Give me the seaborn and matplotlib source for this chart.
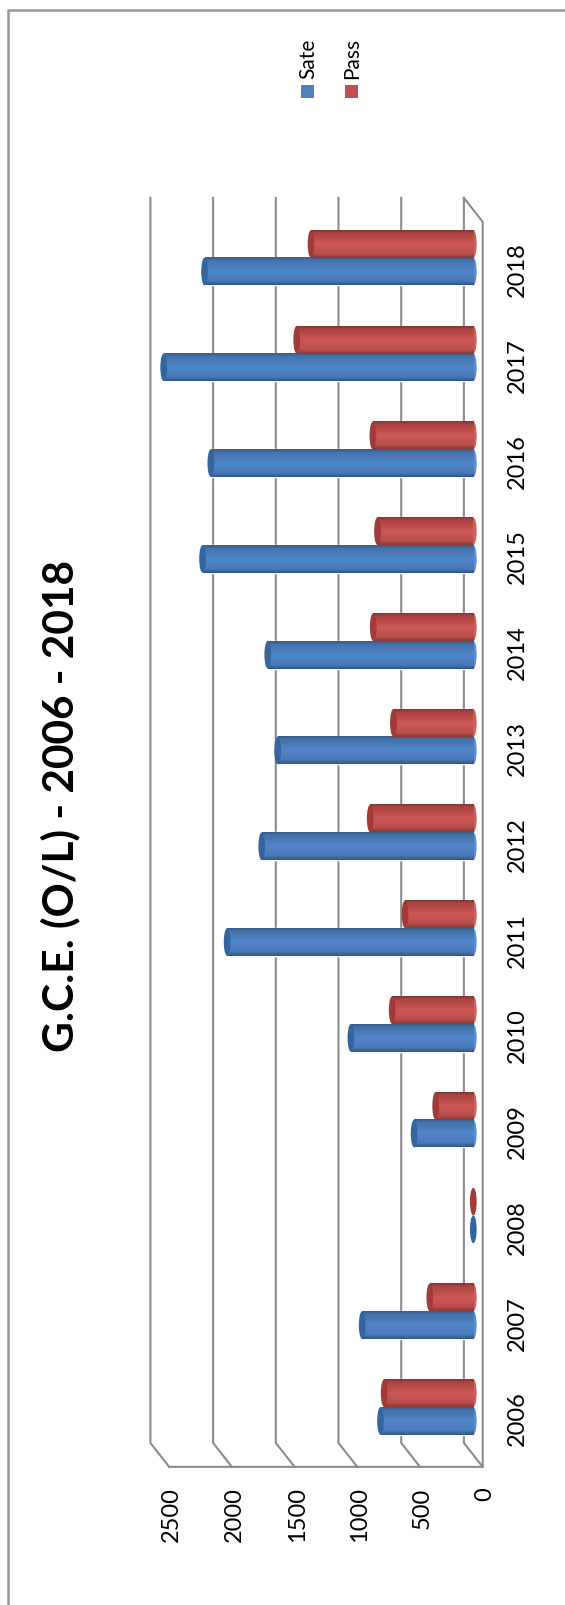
import numpy as np
import pandas as pd
import matplotlib
matplotlib.use("Agg")
import matplotlib.pyplot as plt
import seaborn as sns
from matplotlib.lines import Line2D
from matplotlib.patches import Ellipse, Rectangle
from matplotlib.transforms import ScaledTranslation

# -----------------------------
# Data
# -----------------------------

years = ["2006", "2007", "2008", "2009", "2010", "2011", "2012",
         "2013", "2014", "2015", "2016", "2017", "2018"]
sate = [740, 886, 0, 472, 976, 1963, 1687, 1560, 1639, 2159, 2093, 2469, 2143]
passed = [711, 347, 0, 300, 647, 544, 822, 637, 798, 764, 801, 1408, 1294]
series_names = ["Sate", "Pass"]
value_ticks = [0, 500, 1000, 1500, 2000, 2500]
title = "G.C.E. (O/L) - 2006 - 2018"

df = pd.DataFrame({"year": years, "Sate": sate, "Pass": passed})
long_df = df.melt(id_vars="year", var_name="series", value_name="value")

# -----------------------------
# Layout (pixels of the 565x1605 picture)
# -----------------------------

W, H = 565, 1605
GRID = "#8c8c8c"
BLUE = "#4f81bd"
RED = "#c0504d"

x_zero = 473.3
px_per_unit = 0.1254
y_first = 1407
px_per_cat = 95.77
depth_x = 75      # value units between the bars and the floor/wall
depth_y = 0.125   # categories

ax_left, ax_right, ax_top, ax_bottom = 146, 490, 190, 1475

sns.set_style("white")
plt.rcParams["font.family"] = ["Lato", "DejaVu Sans"]

fig = plt.figure(figsize=(W / 100, H / 100), dpi=100)
ax = fig.add_axes([ax_left / W, 1 - ax_bottom / H,
                   (ax_right - ax_left) / W, (ax_bottom - ax_top) / H])
ax.patch.set_alpha(0)

sns.barplot(data=long_df, x="value", y="year", hue="series",
            order=years, hue_order=series_names,
            palette=[BLUE, RED], saturation=1, width=0.578, gap=0,
            errorbar=None, legend=False, orient="y", ax=ax)

xlim = ((x_zero - ax_left) / px_per_unit, (x_zero - ax_right) / px_per_unit)
ylim = ((y_first - ax_bottom) / px_per_cat, (y_first - ax_top) / px_per_cat)
y_lo, y_hi = -0.5, len(years) - 0.5

# -----------------------------
# Fake 3D walls
# -----------------------------

line_kw = dict(color=GRID, lw=1.5, zorder=0.5, clip_on=False,
               solid_capstyle="projecting", solid_joinstyle="miter")
for v in value_ticks:
    ax.plot([v + depth_x, v + depth_x, v - depth_x],
            [y_hi + depth_y, y_lo + depth_y, y_lo - depth_y], **line_kw)
ax.plot([value_ticks[-1] - depth_x, -depth_x, -depth_x, depth_x],
        [y_lo - depth_y, y_lo - depth_y, y_hi - depth_y, y_hi + depth_y], **line_kw)

# -----------------------------
# Cylinder shading on the seaborn bars
# -----------------------------

stops = [0, 0.1, 0.5, 0.85, 1]
shades = {
    0: np.array([[56, 92, 138], [68, 114, 170], [80, 134, 202], [72, 122, 182], [52, 88, 132]]) / 255,
    1: np.array([[134, 52, 50], [170, 68, 66], [205, 88, 85], [186, 78, 75], [140, 56, 54]]) / 255,
}
cap_colors = {0: "#33659f", 1: "#a03b39"}
end_colors = {0: "#5a8fd0", 1: "#d0605c"}
cap_width = 6.7 / px_per_unit

t = np.linspace(0, 1, 40)
for k, container in enumerate(ax.containers):
    grad = np.stack([np.interp(t, stops, shades[k][:, c]) for c in range(3)], axis=1)
    grad = grad[:, None, :]
    for patch in container:
        x0, w = patch.get_x(), patch.get_width()
        y0, h = patch.get_y(), patch.get_height()
        tip = x0 + w
        yc = y0 + h / 2
        z = 2 + k * 0.01
        if w > 0:
            ax.add_patch(Ellipse((x0, yc), cap_width, h, fc=end_colors[k], ec="none", zorder=z))
            ax.imshow(grad, extent=(x0, tip, y0, y0 + h), origin="upper", aspect="auto",
                      interpolation="bilinear", zorder=z + 0.001)
        ax.add_patch(Ellipse((tip, yc), cap_width, h, fc=cap_colors[k], ec="none", zorder=z + 0.002))

ax.set_xlim(*xlim)
ax.set_ylim(*ylim)

# -----------------------------
# Axes text
# -----------------------------

for s in ax.spines.values():
    s.set_visible(False)
ax.grid(False)
ax.set_xlabel("")
ax.set_ylabel("")

ax.set_xticks([v - depth_x for v in value_ticks])
ax.set_xticklabels([str(v) for v in value_ticks], rotation=90, va="top", ha="center",
                   fontsize=17, color="black")
ax.set_yticks(np.arange(len(years)) - depth_y)
ax.set_yticklabels(years, rotation=90, va="center", ha="left", fontsize=17, color="black")
ax.yaxis.tick_right()
ax.tick_params(axis="x", length=0, pad=9)
ax.tick_params(axis="y", length=0, pad=12.5)

# digits sit off centre because of the descender room in the text box
nudge = ScaledTranslation(2.5 / 100, 0, fig.dpi_scale_trans)
for lab in ax.get_xticklabels():
    lab.set_transform(lab.get_transform() + nudge)

# Title and legend are rotated with the rest of the picture
fig.text(60 / W, 1 - 806 / H, title, rotation=90, ha="center", va="center",
         fontsize=30.5, fontweight="bold", color="black")

legend_items = [(series_names[0], BLUE, 301), (series_names[1], RED, 345)]
for name, color, x_px in legend_items:
    fig.patches.append(Rectangle((x_px / W, 1 - 98 / H), 13 / W, 13 / H, fc=color, ec="none",
                                 transform=fig.transFigure, figure=fig))
    fig.text((x_px + 7.5) / W, 1 - 79 / H, name, rotation=90, ha="center", va="bottom",
             fontsize=15, color="black")

# Outer chart frame, cut by the picture edges
fig.add_artist(Line2D([7.5 / W, 7.5 / W, 1], [0, 1 - 9.5 / H, 1 - 9.5 / H],
                      color="#979797", lw=1.8, transform=fig.transFigure))

fig.savefig("out.png", dpi=100)
